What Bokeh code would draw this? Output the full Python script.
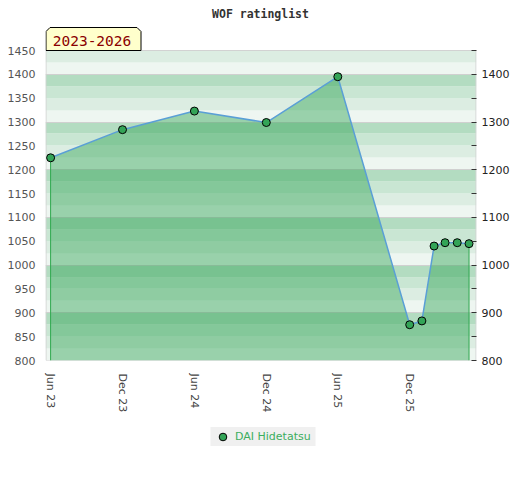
import pandas as pd
from bokeh.plotting import figure
from bokeh.layouts import column
from bokeh.models import (Range1d, FixedTicker, DatetimeTickFormatter, LinearAxis,
                          Legend, LegendItem)
from bokeh.core.properties import value
from bokeh.embed import file_html
from bokeh.resources import INLINE

# ---- data ----
chart_title = "WOF ratinglist"
period_text = "2023-2026"
player = "DAI Hidetatsu"
dates = ["2023-06-01", "2023-12-01", "2024-06-01", "2024-12-01", "2025-06-01",
         "2025-12-01", "2026-01-01", "2026-02-01", "2026-03-01", "2026-04-01",
         "2026-05-01"]
ratings = [1225, 1284, 1323, 1299, 1395, 875, 883, 1040, 1047, 1047, 1045]
x_tick_dates = ["2023-06-01", "2023-12-01", "2024-06-01", "2024-12-01",
                "2025-06-01", "2025-12-01"]
y_left_ticks = [800, 850, 900, 950, 1000, 1050, 1100, 1150, 1200, 1250,
                1300, 1350, 1400, 1450]
y_right_major = [800, 900, 1000, 1100, 1200, 1300, 1400]
y_right_minor = [850, 950, 1050, 1150, 1250, 1350, 1450]
x_start, x_end = "2023-05-19", "2026-05-20"
y_start, y_end = 800, 1450

# ---- styling / geometry ----
band_colors = ["#eef6f1", "#dcede2", "#c9e6d3", "#b3dcc1"]
FONT = "DejaVu Sans"
MONO = "DejaVu Sans Mono"
FRAME_W = 431          # plot-area width in px
AREA_H = 310           # plot-area height in px
TOP_PAD = 50           # px above the plot area (title + period box)


def ms(d):
    return pd.Timestamp(d).value // 10**6


X0, X1 = ms(x_start), ms(x_end)
ppu = AREA_H / (y_end - y_start)
Y_TOP = y_end + TOP_PAD / ppu


def fx(px):  # px from plot-area left -> data x
    return X0 + (X1 - X0) * px / FRAME_W


def fy(py):  # px from canvas top -> data y
    return Y_TOP - py / ppu


xd = [ms(d) for d in dates]

p = figure(x_axis_type="datetime", frame_width=FRAME_W, frame_height=AREA_H + TOP_PAD,
           x_range=Range1d(X0, X1), y_range=Range1d(y_start, Y_TOP),
           output_backend="svg", toolbar_location=None,
           min_border_left=45, min_border_right=40, min_border_top=0,
           min_border_bottom=60)
p.background_fill_color = "white"
p.border_fill_color = "white"
p.outline_line_color = None

# background bands
band_lo = list(range(y_start, y_end, 25))
band_hi = [b + 25 for b in band_lo]
band_col = [band_colors[i % 4] for i in range(len(band_lo))]
rb = p.hstrip(y0=band_lo, y1=band_hi, fill_color=band_col, line_color=None)
rb.level = "image"

# grid
p.xgrid.grid_line_color = None
p.ygrid.ticker = FixedTicker(ticks=y_right_major)
p.ygrid.grid_line_color = "#d0d0d0"
p.ygrid.grid_line_width = 1

# plot-area border
p.quad(left=[fx(0.5)], right=[fx(FRAME_W - 0.5)], bottom=[y_start], top=[y_end],
       fill_color=None, line_color="#d2d2d2", line_width=1)

# area
p.varea(x=xd, y1=[y_start] * len(ratings), y2=ratings,
        fill_color="#29a14f", fill_alpha=0.43)
p.segment(x0=[xd[0], xd[-1]], y0=[y_start, y_start], x1=[xd[0], xd[-1]],
          y1=[ratings[0], ratings[-1]], line_color="#2fa84f", line_width=1)
p.line(xd, ratings, line_color="#5a9fd6", line_width=1.5)
sc = p.scatter(xd, ratings, size=8, fill_color="#33a457", line_color="black",
               line_width=1)

# title
p.text(x=[fx(215)], y=[fy(13.5)], text=[chart_title], text_align="center",
       text_baseline="middle", text_font=value(MONO), text_font_style="bold",
       text_font_size=value("11.5px"), text_color="#333333")

# period box
c = 4
bx = [0.5, 0.5, c + 0.5, 95.5 - c, 95.5, 95.5]
by = [50, 27 + c, 27, 27, 27 + c, 50]
p.patch(x=[fx(v) for v in bx], y=[fy(v) for v in by], fill_color="#ffffcc",
        line_color="black", line_width=1)
p.text(x=[fx(46.5)], y=[fy(40.5)], text=[period_text], text_align="center",
       text_baseline="middle", text_font=value(MONO),
       text_font_size=value("14.5px"), text_color="#8b0000")

# x axis
xa = p.xaxis[0]
xa.ticker = FixedTicker(ticks=[ms(d) for d in x_tick_dates])
xa.formatter = DatetimeTickFormatter(days="%b %y", months="%b %y", years="%b %y")
xa.major_label_orientation = "vertical"
xa.major_label_text_font = FONT
xa.major_label_text_font_size = "11px"
xa.major_label_text_color = "#444444"
xa.major_tick_in = 0
xa.major_tick_out = 0
xa.minor_tick_in = 0
xa.minor_tick_out = 0
xa.axis_line_color = None
xa.major_label_standoff = 13

# left axis
ya = p.yaxis[0]
ya.ticker = FixedTicker(ticks=y_left_ticks)
ya.major_label_text_font = FONT
ya.major_label_text_font_size = "11px"
ya.major_label_text_color = "#555555"
ya.major_tick_in = 0
ya.major_tick_out = 0
ya.minor_tick_in = 0
ya.minor_tick_out = 0
ya.axis_line_color = None
ya.major_label_standoff = 10

# right axis
ra = LinearAxis(ticker=FixedTicker(ticks=y_right_major, minor_ticks=y_right_minor))
ra.major_label_text_font = FONT
ra.major_label_text_font_size = "11px"
ra.major_label_text_color = "#222222"
ra.major_tick_in = 5
ra.major_tick_out = 0
ra.minor_tick_in = 5
ra.minor_tick_out = 0
ra.major_tick_line_color = "#333333"
ra.minor_tick_line_color = "#333333"
ra.axis_line_color = None
ra.major_label_standoff = 5
p.add_layout(ra, "right")

# legend strip (separate small figure below the chart; proxy point kept off-view)
q = figure(width=520, height=40, x_range=Range1d(0, 1), y_range=Range1d(0, 1),
           x_axis_location=None, y_axis_location=None, output_backend="svg",
           toolbar_location=None, min_border=0)
q.grid.grid_line_color = None
q.outline_line_color = None
q.background_fill_color = "white"
q.border_fill_color = "white"
lg = q.scatter(x=[-5], y=[-5], size=7, fill_color="#33a457", line_color="black",
               line_width=1)
leg = Legend(items=[LegendItem(label=player, renderers=[lg])],
             location="top_center", orientation="horizontal",
             background_fill_color="#f0f0f0", background_fill_alpha=1,
             border_line_color=None, padding=0, spacing=0, margin=7,
             glyph_width=24, glyph_height=19, label_height=19, label_width=80,
             label_standoff=1,
             label_text_font=FONT, label_text_font_size="11px",
             label_text_color="#3cae5e")
q.add_layout(leg)

open("out.html", "w").write(file_html(column(p, q), INLINE))
